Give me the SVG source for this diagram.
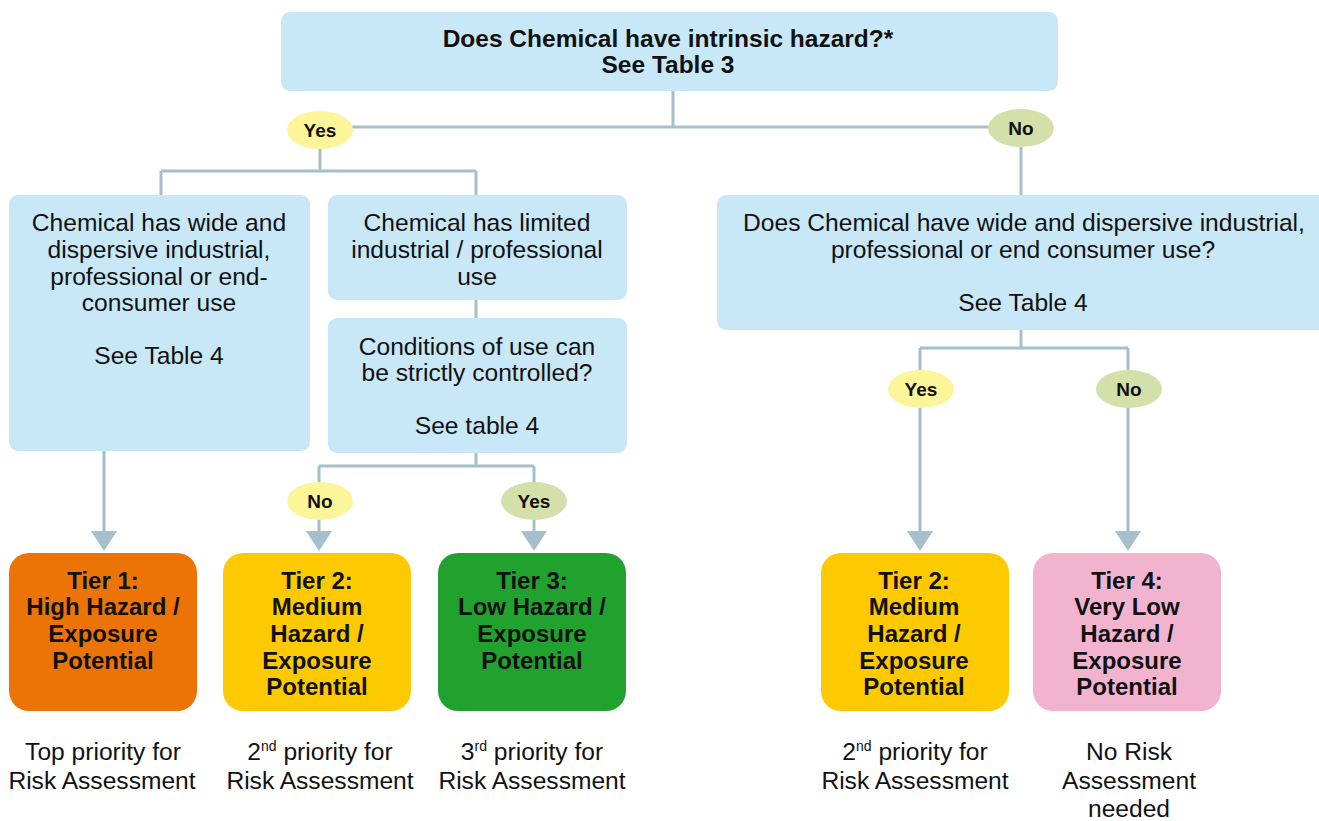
<svg xmlns="http://www.w3.org/2000/svg" width="1319" height="821" viewBox="0 0 1319 821">
<style>
.q{fill:#c8e7f7}
.t{font-family:"Liberation Sans",Arial,sans-serif;font-size:24.6px;fill:#111;text-anchor:middle}
.b{font-weight:bold;font-size:24px}
.tb{font-weight:bold;font-size:24.5px}
.lbl{font-family:"Liberation Sans",Arial,sans-serif;font-size:19px;font-weight:bold;fill:#111;text-anchor:middle}
.c{fill:none;stroke:#a6bfcc;stroke-width:3}
.yes{fill:#fdf59a}
.no{fill:#d3e0a9}
.sup{font-size:14px}
</style>
<defs>
<marker id="ah" markerUnits="userSpaceOnUse" markerWidth="20" markerHeight="26" viewBox="0 0 20 26" refX="0" refY="13" orient="auto">
<path d="M0 0 L20 13 L0 26 Z" fill="#a6bfcc"/>
</marker>
</defs>
<rect width="1319" height="821" fill="#fff"/>
<g id="connectors">
<path class="c" d="M673 91 V127 M320 127 H1021"/>
<path class="c" d="M320 149 V171 M161 171 H476 M161 171 V195 M476 171 V195"/>
<path class="c" d="M476 300 V318"/>
<path class="c" d="M104 451 V531" marker-end="url(#ah)"/>
<path class="c" d="M476 453 V466 M319 466 H534 M319 466 V485 M534 466 V485"/>
<path class="c" d="M319 518 V531" marker-end="url(#ah)"/>
<path class="c" d="M534 518 V531" marker-end="url(#ah)"/>
<path class="c" d="M1021 147 V195"/>
<path class="c" d="M1021 330 V348 M920 348 H1128 M920 348 V372 M1128 348 V372"/>
<path class="c" d="M920 405 V531" marker-end="url(#ah)"/>
<path class="c" d="M1128 405 V531" marker-end="url(#ah)"/>
</g>
<g id="q-hazard">
<rect class="q" x="281" y="12" width="777" height="79" rx="9"/>
<text class="t tb" x="668" y="47">Does Chemical have intrinsic hazard?*</text>
<text class="t tb" x="668" y="73">See Table 3</text>
</g>
<g id="yes-top"><ellipse class="yes" cx="320" cy="130" rx="33" ry="19"/><text class="lbl" x="320" y="137">Yes</text></g>
<g id="no-top"><ellipse class="no" cx="1021" cy="128" rx="33" ry="19"/><text class="lbl" x="1021" y="135">No</text></g>
<g id="wide-use">
<rect class="q" x="9" y="195" width="301" height="256" rx="9"/>
<text class="t" x="159" y="231">Chemical has wide and</text>
<text class="t" x="159" y="258">dispersive industrial,</text>
<text class="t" x="159" y="285">professional or end-</text>
<text class="t" x="159" y="311">consumer use</text>
<text class="t" x="159" y="364">See Table 4</text>
</g>
<g id="limited-use">
<rect class="q" x="328" y="195" width="299" height="105" rx="9"/>
<text class="t" x="477" y="231">Chemical has limited</text>
<text class="t" x="477" y="258">industrial / professional</text>
<text class="t" x="477" y="285">use</text>
</g>
<g id="conditions">
<rect class="q" x="328" y="318" width="299" height="135" rx="9"/>
<text class="t" x="477" y="355">Conditions of use can</text>
<text class="t" x="477" y="381">be strictly controlled?</text>
<text class="t" x="477" y="434">See table 4</text>
</g>
<g id="q-wide">
<rect class="q" x="717" y="195" width="620" height="135" rx="9"/>
<text class="t" x="1024" y="231">Does Chemical have wide and dispersive industrial,</text>
<text class="t" x="1023" y="258">professional or end consumer use?</text>
<text class="t" x="1023" y="311">See Table 4</text>
</g>
<g id="no-mid"><ellipse class="yes" cx="320" cy="501" rx="33" ry="19"/><text class="lbl" x="320" y="508">No</text></g>
<g id="yes-mid"><ellipse class="no" cx="534" cy="501" rx="33" ry="19"/><text class="lbl" x="534" y="508">Yes</text></g>
<g id="yes-right"><ellipse class="yes" cx="921" cy="389" rx="33" ry="19"/><text class="lbl" x="921" y="396">Yes</text></g>
<g id="no-right"><ellipse class="no" cx="1129" cy="389" rx="33" ry="19"/><text class="lbl" x="1129" y="396">No</text></g>
<g id="tier1">
<rect x="9" y="553" width="188" height="158" rx="20" fill="#ec7406"/>
<text class="t b" x="103" y="589">Tier 1:</text>
<text class="t b" x="103" y="615">High Hazard /</text>
<text class="t b" x="103" y="642">Exposure</text>
<text class="t b" x="103" y="669">Potential</text>
<text class="t" x="103" y="760">Top priority for</text>
<text class="t" x="102" y="789">Risk Assessment</text>
</g>
<g id="tier2a">
<rect x="223" y="553" width="188" height="158" rx="20" fill="#fdc900"/>
<text class="t b" x="317" y="589">Tier 2:</text>
<text class="t b" x="317" y="615">Medium</text>
<text class="t b" x="317" y="642">Hazard /</text>
<text class="t b" x="317" y="669">Exposure</text>
<text class="t b" x="317" y="695">Potential</text>
<text class="t" x="320" y="760">2<tspan class="sup" dy="-9">nd</tspan><tspan dy="9"> priority for</tspan></text>
<text class="t" x="320" y="789">Risk Assessment</text>
</g>
<g id="tier3">
<rect x="438" y="553" width="188" height="158" rx="20" fill="#21a22f"/>
<text class="t b" x="532" y="589">Tier 3:</text>
<text class="t b" x="532" y="615">Low Hazard /</text>
<text class="t b" x="532" y="642">Exposure</text>
<text class="t b" x="532" y="669">Potential</text>
<text class="t" x="532" y="760">3<tspan class="sup" dy="-9">rd</tspan><tspan dy="9"> priority for</tspan></text>
<text class="t" x="532" y="789">Risk Assessment</text>
</g>
<g id="tier2b">
<rect x="821" y="553" width="188" height="158" rx="20" fill="#fdc900"/>
<text class="t b" x="914" y="589">Tier 2:</text>
<text class="t b" x="914" y="615">Medium</text>
<text class="t b" x="914" y="642">Hazard /</text>
<text class="t b" x="914" y="669">Exposure</text>
<text class="t b" x="914" y="695">Potential</text>
<text class="t" x="915" y="760">2<tspan class="sup" dy="-9">nd</tspan><tspan dy="9"> priority for</tspan></text>
<text class="t" x="915" y="789">Risk Assessment</text>
</g>
<g id="tier4">
<rect x="1033" y="553" width="188" height="158" rx="20" fill="#f2b3cf"/>
<text class="t b" x="1127" y="589">Tier 4:</text>
<text class="t b" x="1127" y="615">Very Low</text>
<text class="t b" x="1127" y="642">Hazard /</text>
<text class="t b" x="1127" y="669">Exposure</text>
<text class="t b" x="1127" y="695">Potential</text>
<text class="t" x="1129" y="760">No Risk</text>
<text class="t" x="1129" y="789">Assessment</text>
<text class="t" x="1129" y="817">needed</text>
</g>
</svg>
